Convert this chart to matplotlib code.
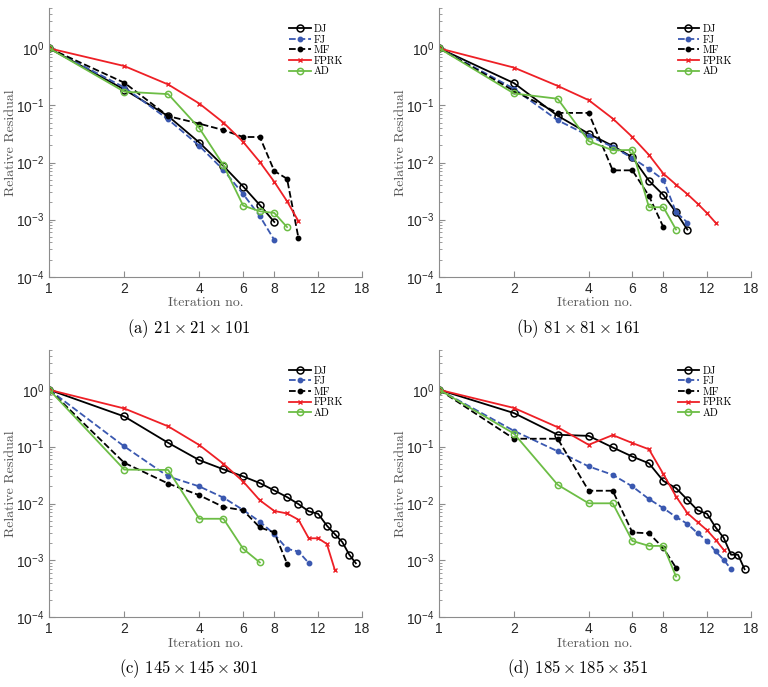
import numpy as np
import matplotlib
matplotlib.use('Agg')
import matplotlib.pyplot as plt
from matplotlib.ticker import LogLocator, FixedLocator, FixedFormatter, NullLocator, FuncFormatter

# relative residual per iteration (iteration 1, 2, 3, ...)
# (a) 21 x 21 x 101
dj_a = [1.0, 0.19, 0.065, 0.0224, 0.0087, 0.0038, 0.0018, 0.00091]
fj_a = [1.0, 0.207, 0.057, 0.0196, 0.0074, 0.0028, 0.00115, 0.00044]
mf_a = [1.0, 0.25, 0.065, 0.048, 0.037, 0.028, 0.028, 0.0071, 0.0052, 0.00048]
fprk_a = [1.0, 0.49, 0.233, 0.108, 0.05, 0.023, 0.0102, 0.0046, 0.0021, 0.00094]
ad_a = [1.0, 0.174, 0.158, 0.04, 0.009, 0.00176, 0.0014, 0.00131, 0.00074]

# (b) 81 x 81 x 161
dj_b = [1.0, 0.246, 0.066, 0.032, 0.0196, 0.0124, 0.0048, 0.0027, 0.00134, 0.00067]
fj_b = [1.0, 0.196, 0.055, 0.0295, 0.0188, 0.012, 0.0077, 0.005, 0.00135, 0.00089]
mf_b = [1.0, 0.18, 0.074, 0.074, 0.0073, 0.0073, 0.0026, 0.00074]
fprk_b = [1.0, 0.46, 0.22, 0.124, 0.059, 0.028, 0.0136, 0.0064, 0.0041, 0.0028, 0.0019, 0.0013, 0.00088]
ad_b = [1.0, 0.162, 0.131, 0.0237, 0.0164, 0.0166, 0.00165, 0.00165, 0.00067]

# (c) 145 x 145 x 301
dj_c = [1.0, 0.34, 0.117, 0.058, 0.04, 0.03, 0.0229, 0.017, 0.013, 0.0098, 0.0073, 0.0066,
        0.0041, 0.0029, 0.0021, 0.00126, 0.00089]
fj_c = [1.0, 0.101, 0.03, 0.02, 0.0127, 0.0077, 0.0048, 0.0029, 0.0016, 0.00143, 0.0009]
mf_c = [1.0, 0.052, 0.0225, 0.014, 0.0087, 0.0076, 0.0038, 0.0031, 0.00088]
fprk_c = [1.0, 0.47, 0.228, 0.107, 0.05, 0.0244, 0.0114, 0.0074, 0.0067, 0.0052, 0.00245,
          0.00245, 0.00195, 0.00068]
ad_c = [1.0, 0.0395, 0.039, 0.0054, 0.0054, 0.0016, 0.00092]

# (d) 185 x 185 x 351
dj_d = [1.0, 0.39, 0.162, 0.155, 0.097, 0.067, 0.051, 0.025, 0.0187, 0.0117, 0.0076, 0.0066,
        0.0038, 0.0025, 0.00126, 0.00126, 0.0007]
fj_d = [1.0, 0.19, 0.083, 0.045, 0.032, 0.02, 0.012, 0.0083, 0.0058, 0.0044, 0.003, 0.0022,
        0.00144, 0.00103, 0.0007]
mf_d = [1.0, 0.138, 0.138, 0.0168, 0.0168, 0.0031, 0.003, 0.00165, 0.00074]
fprk_d = [1.0, 0.48, 0.22, 0.108, 0.16, 0.116, 0.09, 0.033, 0.0133, 0.0068, 0.0047, 0.0034,
          0.0023, 0.00154]
ad_d = [1.0, 0.17, 0.0214, 0.0101, 0.0101, 0.0022, 0.0018, 0.0018, 0.00052]

captions = [r'(a) $21\times21\times101$', r'(b) $81\times81\times161$',
            r'(c) $145\times145\times301$', r'(d) $185\times185\times351$']
x_ticks = [1, 2, 4, 6, 8, 12, 18]

plt.rcParams['font.family'] = ['Liberation Sans', 'DejaVu Sans']
plt.rcParams['mathtext.fontset'] = 'custom'
plt.rcParams['mathtext.rm'] = 'Liberation Sans'
plt.rcParams['mathtext.it'] = 'Liberation Sans:italic'
plt.rcParams['mathtext.bf'] = 'Liberation Sans:bold'

SERIF = ['cmr10', 'DejaVu Serif']
BLUE = '#3a58b0'
RED = '#ee2026'
GREEN = '#6cbd45'
AXIS_GRAY = '#8c8c8c'


def iters(vals):
    return np.arange(1, len(vals) + 1)


def draw(ax, dj, fj, mf, fprk, ad, caption):
    ax.plot(iters(dj), dj, '-', color='k', lw=1.3, marker='o', ms=5, mfc='none', mew=1.1, label='DJ')
    ax.plot(iters(fj), fj, '--', color=BLUE, lw=1.3, marker='o', ms=3.2, mec=BLUE, label='FJ')
    ax.plot(iters(mf), mf, '--', color='k', lw=1.3, marker='o', ms=3.2, label='MF')
    ax.plot(iters(fprk), fprk, '-', color=RED, lw=1.3, marker='x', ms=3, mew=1.0, label='FPRK')
    ax.plot(iters(ad), ad, '-', color=GREEN, lw=1.3, marker='o', ms=4.5, mfc='none', mew=1.1, label='AD')

    ax.set_xscale('log')
    ax.set_yscale('log')
    ax.set_xlim(1, 18)
    ax.set_ylim(1e-4, 10 ** 0.7)

    ax.xaxis.set_major_locator(FixedLocator(x_ticks))
    ax.xaxis.set_major_formatter(FixedFormatter([str(t) for t in x_ticks]))
    ax.xaxis.set_minor_locator(NullLocator())
    ax.yaxis.set_major_locator(LogLocator(base=10, numticks=10))
    ax.yaxis.set_minor_locator(LogLocator(base=10, subs=np.arange(2, 10), numticks=10))
    ax.yaxis.set_major_formatter(FuncFormatter(lambda v, p: r'$10^{%d}$' % int(round(np.log10(v)))))

    for s in ['top', 'right']:
        ax.spines[s].set_visible(False)
    for s in ['left', 'bottom']:
        ax.spines[s].set_color(AXIS_GRAY)
        ax.spines[s].set_linewidth(0.8)
    ax.tick_params(which='both', direction='in', color=AXIS_GRAY, labelcolor='#262626', labelsize=10)
    ax.tick_params(which='major', length=4)
    ax.tick_params(which='minor', length=2.5)

    ax.set_xlabel('Iteration no.', family=SERIF, fontsize=10, color='#555555', labelpad=1)
    ax.set_ylabel('Relative Residual', family=SERIF, fontsize=10, color='#555555')
    ax.yaxis.label.set_va('center')
    ax.yaxis.set_label_coords(-0.124, 0.5)

    ax.legend(loc='upper right', bbox_to_anchor=(0.94, 0.94), frameon=False, numpoints=1,
              prop={'family': SERIF, 'size': 7.5}, handlelength=2.1, handletextpad=0.3,
              labelspacing=0.1, borderpad=0, borderaxespad=0)

    pos = ax.get_position()
    ax.figure.text(pos.x0 + pos.width * 0.445, pos.y0 - 0.075, caption, family=SERIF,
                   math_fontfamily='cm', fontsize=12, ha='center', va='center')


def main():
    fig = plt.figure(figsize=(7.68, 6.87), dpi=100)
    ax_a = fig.add_axes([0.0642, 0.5972, 0.4072, 0.3906])
    ax_b = fig.add_axes([0.572, 0.5972, 0.4055, 0.3906])
    ax_c = fig.add_axes([0.0642, 0.1015, 0.4072, 0.389])
    ax_d = fig.add_axes([0.572, 0.1015, 0.4055, 0.389])

    draw(ax_a, dj_a, fj_a, mf_a, fprk_a, ad_a, captions[0])
    draw(ax_b, dj_b, fj_b, mf_b, fprk_b, ad_b, captions[1])
    draw(ax_c, dj_c, fj_c, mf_c, fprk_c, ad_c, captions[2])
    draw(ax_d, dj_d, fj_d, mf_d, fprk_d, ad_d, captions[3])

    fig.savefig('out.png', dpi=100)


if __name__ == '__main__':
    main()
